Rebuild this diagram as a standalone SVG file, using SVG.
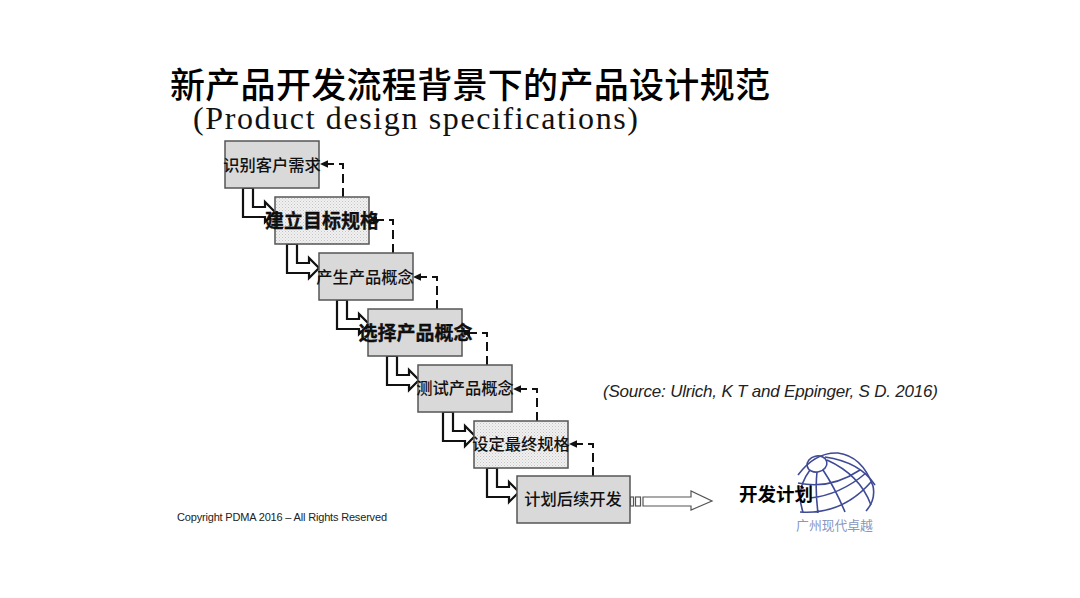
<svg xmlns="http://www.w3.org/2000/svg" width="1080" height="598" viewBox="0 0 1080 598">
<style>
.cjk{font-family:"Noto Sans CJK SC","Noto Sans",sans-serif;fill:#111}
.lab{font-size:16.300px;font-weight:500;text-anchor:middle}
.bold{font-size:19px;font-weight:700;text-anchor:middle;stroke:#000;stroke-width:.3}
.box{stroke:#555;stroke-width:1.5}
.solid{fill:#d9d9d9}
.dot{fill:url(#dots)}
.elbow{fill:#fff;stroke:#111;stroke-width:2.200}
.dash{fill:none;stroke:#111;stroke-width:2;stroke-dasharray:9 5;marker-end:url(#tip)}
.glob{fill:none;stroke:#3f4a96;stroke-width:1.600}
</style>
<defs>
<pattern id="dots" width="3" height="3" patternUnits="userSpaceOnUse"><rect width="3" height="3" fill="#f1f1f1"/><rect width="1" height="1" fill="#c4c4c4"/><rect x="1.500" y="1.500" width="1" height="1" fill="#cfcfcf"/></pattern>
<marker id="tip" markerUnits="userSpaceOnUse" markerWidth="9" markerHeight="9" refX="8" refY="4.500" orient="auto"><path d="M0,.8 L8,4.500 L0,8.200Z" fill="#111"/></marker>
<path id="elb" d="M0,0 V29 H22 V34 L32,24 L22,14 V19 H10 V0 Z"/>
</defs>
<rect width="1080" height="598" fill="#fff"/>
<text id="title" x="170" y="98" class="cjk" font-size="35" font-weight="500" textLength="600" style="fill:#000">新产品开发流程背景下的产品设计规范</text>
<text id="subtitle" x="193" y="129" font-family="'Liberation Serif',serif" font-size="32" textLength="445" fill="#111">(Product design specifications)</text>
<g id="connectors">
<use href="#elb" x="243" y="188" class="elbow"/>
<use href="#elb" x="287" y="244" class="elbow"/>
<use href="#elb" x="337" y="300" class="elbow"/>
<use href="#elb" x="387" y="356" class="elbow"/>
<use href="#elb" x="443" y="412" class="elbow"/>
<use href="#elb" x="487" y="468" class="elbow"/>
<path class="dash" d="M343,197 V164 H320"/>
<path class="dash" d="M393,253 V220 H369"/>
<path class="dash" d="M437,309 V277 H413"/>
<path class="dash" d="M487,365 V333 H462"/>
<path class="dash" d="M537,421 V389 H513"/>
<path class="dash" d="M593,476 V444 H569"/>
<g fill="#fff" stroke="#555" stroke-width="1.200">
<rect x="630.500" y="497" width="3" height="9"/><rect x="635.500" y="497" width="5" height="9"/>
<path d="M643,497 H691 V491 L712,501 L691,510 V506 H643 Z"/>
</g>
</g>
<g id="n1"><rect class="box solid" x="225" y="141" width="94" height="47"/><text class="cjk lab" x="272" y="171">识别客户需求</text></g>
<g id="n2"><rect class="box dot" x="275" y="197" width="94" height="47"/><text class="cjk bold" x="322" y="228">建立目标规格</text></g>
<g id="n3"><rect class="box solid" x="319" y="253" width="94" height="47"/><text class="cjk lab" x="365" y="283">产生产品概念</text></g>
<g id="n4"><rect class="box solid" x="368" y="309" width="94" height="47"/><text class="cjk bold" x="415.500" y="340">选择产品概念</text></g>
<g id="n5"><rect class="box solid" x="418" y="365" width="94" height="47"/><text class="cjk lab" x="465" y="394">测试产品概念</text></g>
<g id="n6"><rect class="box dot" x="474" y="421" width="94" height="47"/><text class="cjk lab" x="521" y="450">设定最终规格</text></g>
<g id="n7"><rect class="box solid" x="517" y="476" width="113" height="47"/><text class="cjk lab" x="573" y="505">计划后续开发</text></g>
<text id="source" x="603" y="397" font-family="'Liberation Sans',sans-serif" font-size="17" font-style="italic" textLength="335" fill="#222">(Source: Ulrich, K T and Eppinger, S D. 2016)</text>
<text id="copyright" x="177" y="521" font-family="'Liberation Sans',sans-serif" font-size="11" textLength="210" fill="#222">Copyright PDMA 2016 – All Rights Reserved</text>
<g id="logo">
<ellipse class="glob" cx="817" cy="464" rx="10" ry="8" transform="rotate(-12 817 464)"/>
<path class="glob" d="M798,475 Q815,452 838,453 Q862,456 873,486 Q876,500 866,511"/>
<path class="glob" d="M810,470 Q795,490 803,512 M817,472 Q815,490 818,513 M823,470 Q835,488 845,512 M827,460 Q860,475 871,505 M825,457 Q860,462 875,485 M798,483 Q830,490 860,470 M800,512 Q842,515 871,482 M810,498 Q840,495 866,473"/>
<text x="834.500" y="530" class="cjk" font-size="12.800" text-anchor="middle" style="fill:#8a96bf">广州现代卓越</text>
</g>
<text id="plan" x="739" y="501" class="cjk" font-size="18.500" font-weight="700" style="fill:#000">开发计划</text>
</svg>
